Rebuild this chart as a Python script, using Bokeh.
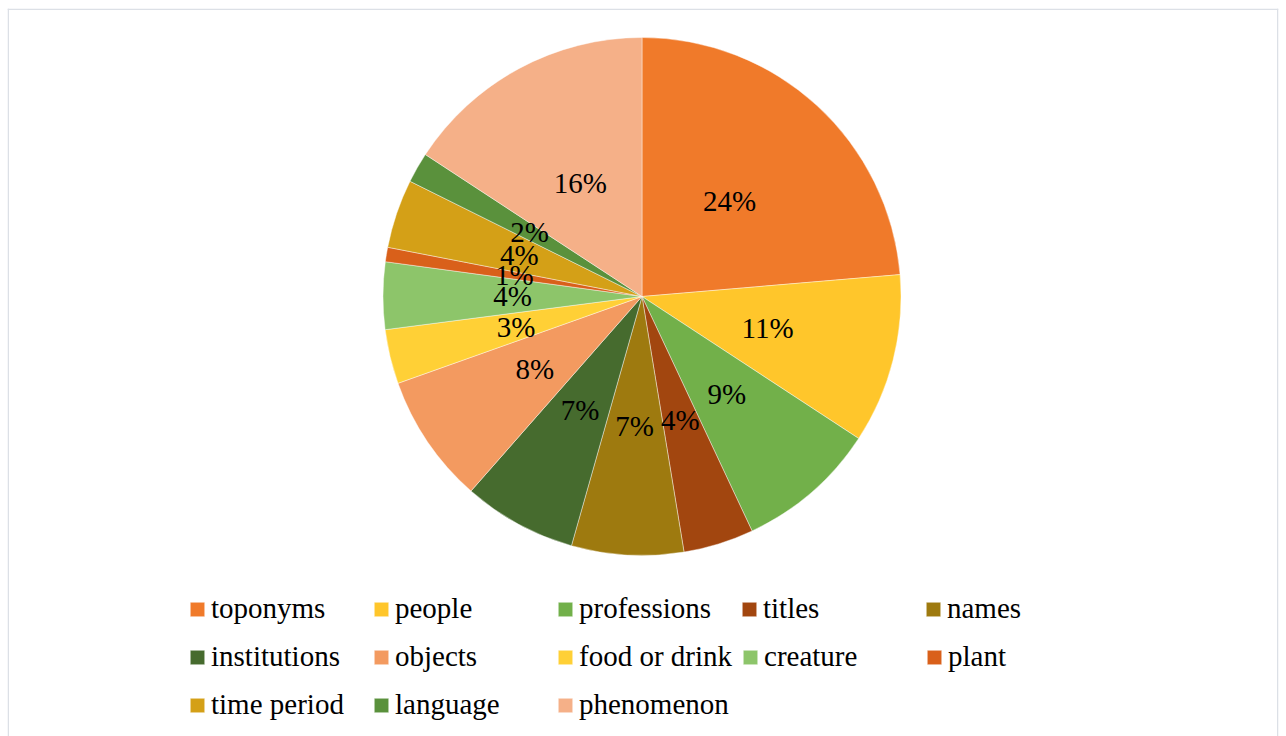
import math
from bokeh.plotting import figure
from bokeh.models import ColumnDataSource, Range1d, Legend, LegendItem, Span
from bokeh.core.properties import value
from bokeh.embed import file_html
from bokeh.resources import INLINE

# ---- data ----
categories = ["toponyms", "people", "professions", "titles", "names",
              "institutions", "objects", "food or drink", "creature", "plant",
              "time period", "language", "phenomenon"]
shares = [23.7, 10.6, 8.8, 4.4, 7.0, 7.1, 8.1, 3.4, 4.2, 0.9, 4.3, 1.9, 15.8]
colors = ["#F07A2A", "#FFC62B", "#72B04A", "#A2460F", "#9E7A0F",
          "#466B2E", "#F39A60", "#FFD036", "#8DC56A", "#D9601A",
          "#D4A017", "#5A913C", "#F5B088"]

# ---- layout ----
FW, FH = 1271, 728          # frame size
CX, CY, R = 634.5, 440.0, 259.0
FONT = "Liberation Serif"
FS = "29px"

total = sum(shares)
starts, ends, lx, ly, labels = [], [], [], [], []
cum = 0.0
for s in shares:
    a0 = math.pi / 2 - 2 * math.pi * cum / total
    cum += s
    a1 = math.pi / 2 - 2 * math.pi * cum / total
    starts.append(a0)
    ends.append(a1)
    mid = (a0 + a1) / 2
    lx.append(CX + 0.5 * R * math.cos(mid))
    ly.append(CY + 0.5 * R * math.sin(mid))
    labels.append(f"{math.floor(100 * s / total + 0.5)}%")

src = ColumnDataSource(dict(cat=categories, start=starts, end=ends,
                            color=colors, lx=lx, ly=ly, lab=labels))

p = figure(width=1286, height=736, output_backend="svg", toolbar_location=None,
           x_range=Range1d(0, FW), y_range=Range1d(0, FH),
           min_border_left=7, min_border_right=8, min_border_top=8,
           min_border_bottom=0)
p.axis.visible = False
p.grid.visible = False
p.outline_line_color = None
p.background_fill_color = "white"
p.border_fill_color = "white"

for loc, dim in [(0.75, "height"), (FW - 0.75, "height"), (FH - 0.75, "width")]:
    p.add_layout(Span(location=loc, dimension=dim, line_color="#DCE0E6",
                      line_width=1.5))

wr = p.wedge(x=CX, y=CY, radius=R, start_angle="start", end_angle="end",
             direction="clock", fill_color="color", line_color="white",
             line_width=0.6, line_alpha=0.7, source=src)

p.text(x="lx", y="ly", text="lab", source=src, text_font=value(FONT),
       text_font_size=FS, text_color="black", text_align="center",
       text_baseline="middle")

rows = [categories[0:5], categories[5:10], categories[10:13]]
row_y = [111, 63, 15]
idx = 0
for names, yb in zip(rows, row_y):
    items = []
    for n in names:
        items.append(LegendItem(label=n, renderers=[wr], index=idx))
        idx += 1
    leg = Legend(items=items, orientation="horizontal", location=(181, yb),
                 glyph_width=18, glyph_height=18, label_standoff=5,
                 label_width=152, spacing=9, padding=0, margin=0,
                 border_line_color=None, background_fill_alpha=0,
                 label_text_font=FONT, label_text_font_size=FS,
                 label_text_color="black")
    p.add_layout(leg, "center")

open("out.html", "w").write(file_html(p, INLINE))
